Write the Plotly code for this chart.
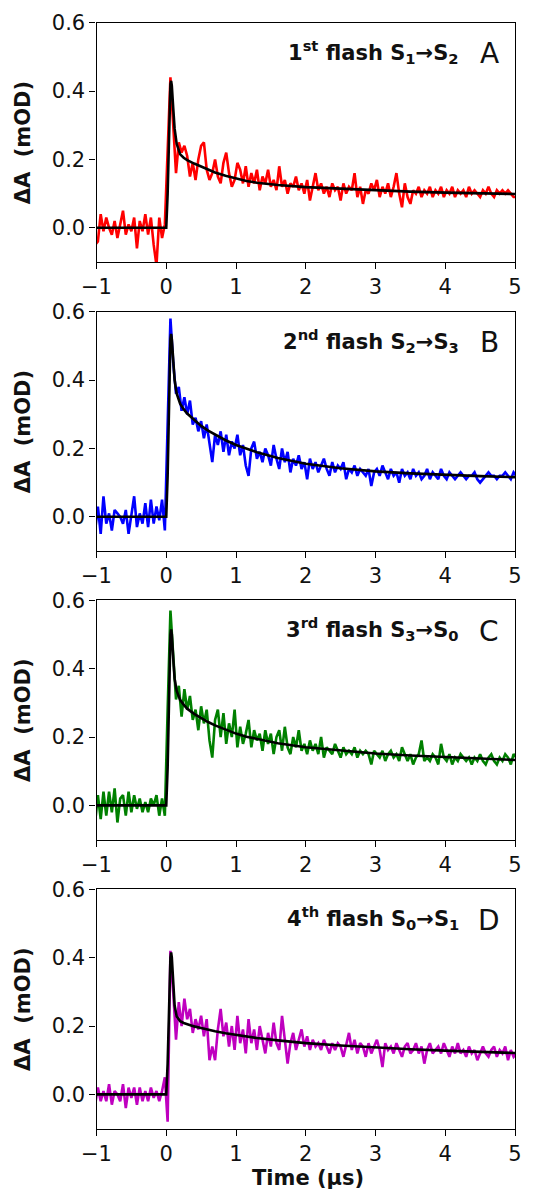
import numpy as np
import plotly.graph_objects as go

# ---------------- data ----------------
# sampling grid of the measured traces (µs)
time_us = np.round(-1.02 + 0.04 * np.arange(152), 2)

flash_A = [
    # pre-trigger  (-1.02 ... -0.02)
    -0.05, -0.04, 0.04, -0.01, 0.03, 0.00, -0.02, 0.02, -0.03, 0.01,
    0.05, -0.02, 0.01, -0.01, 0.03, -0.06, 0.02, -0.01, 0.04, -0.02,
    0.03, -0.05, -0.11, 0.03, -0.03, 0.01,
    # post-trigger (0.02 ... 5.02)
    0.20, 0.44, 0.30, 0.16, 0.25, 0.22, 0.24, 0.21, 0.15, 0.19,
    0.14, 0.20, 0.24, 0.25, 0.17, 0.14, 0.16, 0.20, 0.15, 0.13,
    0.19, 0.22, 0.16, 0.12, 0.14, 0.19, 0.17, 0.13, 0.18, 0.12,
    0.16, 0.13, 0.17, 0.11, 0.15, 0.13, 0.17, 0.12, 0.14, 0.11,
    0.18, 0.12, 0.14, 0.10, 0.13, 0.12, 0.15, 0.11, 0.13, 0.10,
    0.14, 0.08, 0.12, 0.16, 0.11, 0.13, 0.10, 0.12, 0.09, 0.13,
    0.11, 0.12, 0.08, 0.13, 0.10, 0.12, 0.11, 0.16, 0.09, 0.12,
    0.07, 0.11, 0.10, 0.13, 0.11, 0.14, 0.09, 0.12, 0.10, 0.13,
    0.09, 0.12, 0.16, 0.10, 0.06, 0.13, 0.09, 0.07, 0.11, 0.10,
    0.12, 0.09, 0.11, 0.10, 0.12, 0.09, 0.11, 0.10, 0.12, 0.09,
    0.11, 0.10, 0.12, 0.09, 0.11, 0.10, 0.11, 0.09, 0.12, 0.10,
    0.11, 0.10, 0.09, 0.11, 0.10, 0.12, 0.10, 0.09, 0.11, 0.10,
    0.11, 0.10, 0.11, 0.10, 0.09, 0.09,
]

flash_B = [
    -0.04, 0.03, -0.05, 0.06, -0.02, 0.01, -0.04, 0.02, 0.01, 0.00,
    -0.02, 0.02, -0.05, 0.01, 0.06, -0.03, 0.01, -0.02, 0.04, -0.03,
    0.05, -0.02, 0.03, -0.01, 0.05, -0.04,
    0.25, 0.58, 0.45, 0.36, 0.38, 0.31, 0.35, 0.30, 0.34, 0.27,
    0.29, 0.25, 0.28, 0.23, 0.27, 0.22, 0.16, 0.24, 0.21, 0.25,
    0.19, 0.24, 0.18, 0.22, 0.20, 0.24, 0.18, 0.21, 0.15, 0.12,
    0.20, 0.22, 0.17, 0.19, 0.16, 0.20, 0.18, 0.15, 0.21, 0.17,
    0.14, 0.20, 0.16, 0.19, 0.13, 0.17, 0.15, 0.18, 0.14, 0.16,
    0.11, 0.17, 0.14, 0.16, 0.13, 0.15, 0.17, 0.14, 0.12, 0.16,
    0.13, 0.15, 0.14, 0.16, 0.11, 0.14, 0.13, 0.15, 0.12, 0.14,
    0.13, 0.12, 0.14, 0.09, 0.13, 0.14, 0.12, 0.15, 0.13, 0.11,
    0.14, 0.12, 0.13, 0.10, 0.14, 0.12, 0.13, 0.11, 0.14, 0.12,
    0.13, 0.11, 0.12, 0.14, 0.11, 0.13, 0.12, 0.11, 0.14, 0.12,
    0.11, 0.13, 0.12, 0.11, 0.12, 0.13, 0.12, 0.11, 0.12, 0.12,
    0.13, 0.11, 0.10, 0.11, 0.12, 0.13, 0.12, 0.12, 0.11, 0.12,
    0.12, 0.13, 0.12, 0.11, 0.13, 0.12,
]

flash_C = [
    -0.05, 0.03, -0.04, 0.04, -0.03, 0.04, -0.02, 0.05, -0.05, 0.02,
    0.03, -0.03, 0.04, -0.02, 0.03, -0.01, 0.02, -0.02, 0.01, -0.02,
    0.02, 0.00, 0.03, -0.03, 0.02, -0.03,
    0.28, 0.57, 0.44, 0.31, 0.35, 0.26, 0.34, 0.28, 0.32, 0.25,
    0.28, 0.22, 0.29, 0.24, 0.28, 0.19, 0.14, 0.25, 0.28, 0.20,
    0.27, 0.18, 0.24, 0.20, 0.28, 0.17, 0.23, 0.18, 0.21, 0.25,
    0.17, 0.22, 0.19, 0.21, 0.16, 0.22, 0.18, 0.21, 0.15, 0.20,
    0.22, 0.16, 0.23, 0.17, 0.15, 0.20, 0.17, 0.22, 0.16, 0.18,
    0.15, 0.19, 0.16, 0.18, 0.15, 0.20, 0.14, 0.17, 0.16, 0.15,
    0.18, 0.16, 0.14, 0.17, 0.15, 0.16, 0.15, 0.17, 0.14, 0.16,
    0.15, 0.16, 0.15, 0.12, 0.16, 0.15, 0.14, 0.16, 0.13, 0.15,
    0.16, 0.14, 0.15, 0.13, 0.17, 0.15, 0.13, 0.15, 0.12, 0.14,
    0.15, 0.19, 0.13, 0.14, 0.13, 0.15, 0.14, 0.12, 0.18, 0.14,
    0.13, 0.15, 0.12, 0.14, 0.13, 0.15, 0.14, 0.13, 0.14, 0.12,
    0.14, 0.13, 0.15, 0.13, 0.12, 0.14, 0.15, 0.13, 0.12, 0.14,
    0.13, 0.15, 0.14, 0.12, 0.15, 0.14,
]

flash_D = [
    -0.03, 0.02, -0.02, 0.01, -0.02, 0.03, -0.03, 0.01, 0.00, -0.02,
    0.03, -0.04, 0.02, -0.01, 0.02, -0.03, 0.02, -0.02, 0.01, -0.02,
    0.02, -0.01, 0.01, -0.02, 0.01, 0.05,
    -0.08, 0.42, 0.30, 0.16, 0.27, 0.20, 0.28, 0.22, 0.25, 0.18,
    0.22, 0.19, 0.23, 0.17, 0.22, 0.10, 0.14, 0.10, 0.19, 0.25,
    0.17, 0.21, 0.14, 0.20, 0.13, 0.23, 0.15, 0.19, 0.12, 0.22,
    0.15, 0.19, 0.13, 0.20, 0.16, 0.12, 0.18, 0.14, 0.21, 0.15,
    0.13, 0.23, 0.16, 0.09, 0.15, 0.18, 0.13, 0.16, 0.19, 0.14,
    0.17, 0.13, 0.16, 0.14, 0.15, 0.13, 0.16, 0.14, 0.12, 0.15,
    0.13, 0.15, 0.14, 0.11, 0.15, 0.18, 0.13, 0.16, 0.12, 0.15,
    0.14, 0.11, 0.15, 0.12, 0.14, 0.16, 0.13, 0.08, 0.15, 0.13,
    0.14, 0.12, 0.15, 0.13, 0.11, 0.14, 0.15, 0.12, 0.13, 0.15,
    0.12, 0.14, 0.09, 0.13, 0.15, 0.12, 0.13, 0.14, 0.12, 0.15,
    0.13, 0.11, 0.14, 0.12, 0.15, 0.12, 0.13, 0.11, 0.14, 0.12,
    0.13, 0.10, 0.12, 0.14, 0.12, 0.11, 0.13, 0.14, 0.11, 0.13,
    0.12, 0.14, 0.10, 0.13, 0.11, 0.12,
]

# fitted curves
fit_time = [-1.0, 0.0, 0.02, 0.04, 0.06, 0.07, 0.08, 0.10, 0.12, 0.15, 0.2, 0.25,
            0.3, 0.4, 0.5, 0.6, 0.7, 0.85, 1.0, 1.15, 1.3, 1.6, 2.0, 2.5, 3.0,
            3.5, 4.0, 4.5, 5.0]
fit_A = [0.0, 0.0, 0.10, 0.28, 0.42, 0.43, 0.415, 0.35, 0.29, 0.245, 0.215, 0.205,
         0.198, 0.188, 0.179, 0.170, 0.162, 0.152, 0.144, 0.137, 0.132, 0.125, 0.119,
         0.114, 0.110, 0.106, 0.103, 0.101, 0.099]
fit_B = [0.0, 0.0, 0.12, 0.36, 0.52, 0.535, 0.52, 0.46, 0.40, 0.36, 0.33, 0.315,
         0.302, 0.284, 0.266, 0.252, 0.240, 0.224, 0.210, 0.199, 0.189, 0.172, 0.155,
         0.142, 0.133, 0.127, 0.122, 0.119, 0.116]
fit_C = [0.0, 0.0, 0.11, 0.34, 0.50, 0.515, 0.50, 0.43, 0.37, 0.335, 0.308, 0.295,
         0.283, 0.268, 0.255, 0.244, 0.234, 0.221, 0.210, 0.201, 0.194, 0.182, 0.170,
         0.160, 0.152, 0.146, 0.141, 0.137, 0.133]
fit_D = [0.0, 0.0, 0.09, 0.27, 0.40, 0.415, 0.40, 0.33, 0.26, 0.228, 0.214, 0.209,
         0.205, 0.199, 0.194, 0.189, 0.185, 0.179, 0.174, 0.169, 0.165, 0.158, 0.150,
         0.143, 0.137, 0.132, 0.128, 0.124, 0.121]

panel_labels = ["1<sup>st</sup> flash S<sub>1</sub>→S<sub>2</sub>",
                "2<sup>nd</sup> flash S<sub>2</sub>→S<sub>3</sub>",
                "3<sup>rd</sup> flash S<sub>3</sub>→S<sub>0</sub>",
                "4<sup>th</sup> flash S<sub>0</sub>→S<sub>1</sub>"]
panel_letters = ["A", "B", "C", "D"]
series = [flash_A, flash_B, flash_C, flash_D]
fits = [fit_A, fit_B, fit_C, fit_D]
colors = ["#ff0000", "#0000ff", "#008000", "#bf00bf"]

x_ticks = [-1, 0, 1, 2, 3, 4, 5]
y_ticks = [0.0, 0.2, 0.4, 0.6]

# ---------------- layout geometry (pixels) ----------------
W, H = 541, 1189
left_px, right_px = 96.5, 515.0
panel_tops = [22.7, 311.7, 600.3, 889.3]
panel_h = 239.3

def py(p):
    return 1 - p / H

FONT = "DejaVu Sans"
TXT = "#111111"
fig = go.Figure()
layout = dict(
    template="none",
    width=W, height=H,
    margin=dict(l=0, r=0, t=0, b=0, autoexpand=False),
    paper_bgcolor="white", plot_bgcolor="white",
    showlegend=False,
    font=dict(family=FONT, size=21, color=TXT),
    annotations=[],
)

for i in range(4):
    n = "" if i == 0 else str(i + 1)
    xa, ya = "x" + n, "y" + n
    fig.add_trace(go.Scatter(x=time_us, y=series[i], mode="lines",
                             line=dict(color=colors[i], width=2.6),
                             xaxis=xa, yaxis=ya))
    fig.add_trace(go.Scatter(x=fit_time, y=fits[i], mode="lines",
                             line=dict(color="black", width=2.6),
                             xaxis=xa, yaxis=ya))
    top = panel_tops[i]
    bot = top + panel_h
    axis_common = dict(showline=True, mirror=True, linecolor="black", linewidth=1.2,
                       ticks="outside", ticklen=6, tickwidth=1.2, tickcolor="black",
                       showgrid=False, zeroline=False, automargin=False,
                       tickfont=dict(family=FONT, size=21, color=TXT))
    layout["xaxis" + n] = dict(axis_common, domain=[left_px / W, right_px / W],
                               anchor=ya, range=[-1, 5], tickvals=x_ticks)
    layout["yaxis" + n] = dict(axis_common, domain=[py(bot), py(top)],
                               anchor=xa, range=[-0.1, 0.6], tickvals=y_ticks,
                               tickformat=".1f")
    layout["annotations"].append(dict(
        text="<b>ΔA  (mOD)</b>", textangle=-90, xref="paper", yref="paper",
        x=23 / W, y=py(top + panel_h / 2), xanchor="center", yanchor="middle",
        showarrow=False, font=dict(family=FONT, size=21, color=TXT)))
    layout["annotations"].append(dict(
        text="<b>" + panel_labels[i] + "</b>", xref="paper", yref="paper",
        x=461 / W, y=py(top + 29), xanchor="right", yanchor="middle",
        showarrow=False, font=dict(family=FONT, size=21, color=TXT)))
    layout["annotations"].append(dict(
        text=panel_letters[i], xref="paper", yref="paper",
        x=489 / W, y=py(top + 31), xanchor="center", yanchor="middle",
        showarrow=False, font=dict(family=FONT, size=28, color=TXT)))

layout["annotations"].append(dict(
    text="<b>Time (µs)</b>", xref="paper", yref="paper",
    x=308 / W, y=py(1178), xanchor="center", yanchor="middle",
    showarrow=False, font=dict(family=FONT, size=21, color=TXT)))

fig.update_layout(**layout)
fig.write_html("out.html")
